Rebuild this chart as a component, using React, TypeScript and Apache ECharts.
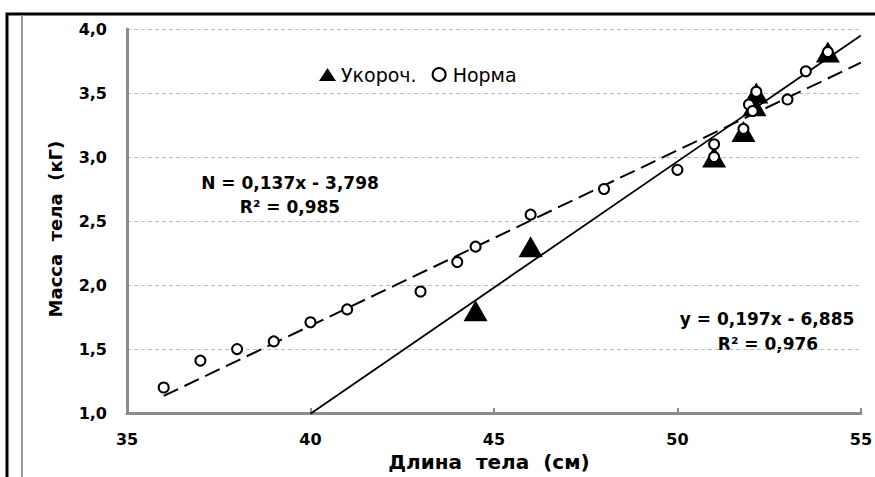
import React, { useEffect, useRef } from 'react';
import * as echarts from 'echarts';

// Categories / series names
const seriesNames = ['Укороч.', 'Норма'];

// Укороч. (shortened) – body length (cm) and body mass (kg)
const shortLength = [44.5, 46, 51, 51.8, 52.1, 52.15, 54.1];
const shortMass = [1.8, 2.3, 3.0, 3.2, 3.4, 3.5, 3.82];

// Норма (normal) – body length (cm) and body mass (kg)
const normLength = [36, 37, 38, 39, 40, 41, 43, 44, 44.5, 46, 48, 50, 51, 51, 51.8, 51.95, 52.05, 52.15, 53, 53.5, 54.1];
const normMass = [1.2, 1.41, 1.5, 1.56, 1.71, 1.81, 1.95, 2.18, 2.3, 2.55, 2.75, 2.9, 3.0, 3.1, 3.22, 3.41, 3.36, 3.51, 3.45, 3.67, 3.82];

// Linear trend lines shown on the chart: [slope, intercept], x range
const normTrend = { slope: 0.137, intercept: -3.798, from: 36, to: 55 };
const shortTrend = { slope: 0.197, intercept: -6.885, from: 40, to: 55 };

// Equation labels
const normEquation = ['N = 0,137x - 3,798', 'R² = 0,985'];
const shortEquation = ['y = 0,197x - 6,885', 'R² = 0,976'];

// Axis ticks / names
const xTicks = { min: 35, max: 55, interval: 5 };
const yTicks = { min: 1, max: 4, interval: 0.5 };
const xName = 'Длина  тела  (см)';
const yName = 'Масса  тела  (кГ)';

const trendPoints = (t: { slope: number; intercept: number; from: number; to: number }) => [
  [t.from, t.slope * t.from + t.intercept],
  [t.to, t.slope * t.to + t.intercept],
];

export default function App() {
  const ref = useRef<HTMLDivElement>(null);
  useEffect(() => {
    const chart = echarts.init(ref.current!, null, { renderer: 'svg' });
    const boldFont = 'DejaVu Sans';
    const eqStyle = (text: string) => ({
      text,
      fontFamily: boldFont,
      fontWeight: 'bold',
      fontSize: 17,
      fill: '#000',
      align: 'center',
      verticalAlign: 'middle',
    });
    chart.setOption({
      animation: false,
      backgroundColor: '#ffffff',
      grid: { left: 127, right: 9, top: 29, bottom: 58, containLabel: false },
      legend: {
        left: 314,
        top: 60,
        itemWidth: 17,
        itemHeight: 13,
        itemGap: 15,
        data: [
          { name: seriesNames[0], icon: 'triangle' },
          { name: seriesNames[1], icon: 'circle' },
        ],
        textStyle: { fontFamily: 'DejaVu Sans', fontSize: 19, color: '#000' },
      },
      xAxis: {
        type: 'value',
        min: xTicks.min,
        max: xTicks.max,
        interval: xTicks.interval,
        name: xName,
        nameLocation: 'middle',
        nameGap: 36,
        nameTextStyle: {
          fontFamily: boldFont,
          fontWeight: 'bold',
          fontSize: 20,
          color: '#000',
          padding: [0, 10, 0, 0],
        },
        axisLine: { show: true, lineStyle: { color: '#8c8c8c', width: 3 } },
        axisTick: { show: true, inside: true, length: 5, lineStyle: { color: '#8c8c8c', width: 2 } },
        axisLabel: {
          margin: 18,
          fontFamily: boldFont,
          fontWeight: 'bold',
          fontSize: 16,
          color: '#000',
        },
        splitLine: { show: false },
      },
      yAxis: {
        type: 'value',
        min: yTicks.min,
        max: yTicks.max,
        interval: yTicks.interval,
        name: yName,
        nameLocation: 'middle',
        nameGap: 63,
        nameRotate: 90,
        nameTextStyle: {
          fontFamily: boldFont,
          fontWeight: 'bold',
          fontSize: 18,
          color: '#000',
          padding: [0, 16, 0, 0],
        },
        axisLine: { show: true, lineStyle: { color: '#8c8c8c', width: 3 } },
        axisTick: { show: false },
        axisLabel: {
          margin: 20,
          fontFamily: boldFont,
          fontWeight: 'bold',
          fontSize: 16,
          color: '#000',
          formatter: (v: number) => v.toFixed(1).replace('.', ','),
        },
        splitLine: { show: true, lineStyle: { color: '#bdbdbd', width: 1, type: [4, 3] } },
      },
      series: [
        {
          name: 'trend-norm',
          type: 'line',
          data: trendPoints(normTrend),
          symbol: 'none',
          lineStyle: { color: '#000', width: 2, type: [16, 7] },
          z: 2,
          silent: true,
        },
        {
          name: 'trend-short',
          type: 'line',
          data: trendPoints(shortTrend),
          symbol: 'none',
          lineStyle: { color: '#000', width: 1.8, type: 'solid' },
          z: 2,
          silent: true,
        },
        {
          name: seriesNames[0],
          type: 'scatter',
          data: shortLength.map((x, i) => [x, shortMass[i]]),
          symbol: 'triangle',
          symbolSize: [24, 21],
          itemStyle: { color: '#000', opacity: 1 },
          z: 3,
        },
        {
          name: seriesNames[1],
          type: 'scatter',
          data: normLength.map((x, i) => [x, normMass[i]]),
          symbol: 'circle',
          symbolSize: 10,
          itemStyle: { color: '#fff', borderColor: '#000', borderWidth: 2, opacity: 1 },
          z: 4,
        },
      ],
      graphic: [
        {
          type: 'rect',
          silent: true,
          shape: { x: 7, y: 14, width: 920, height: 520 },
          style: { fill: 'none', stroke: '#000', lineWidth: 3 },
        },
        {
          type: 'line',
          silent: true,
          shape: { x1: 22, y1: 15, x2: 22, y2: 477 },
          style: { stroke: '#999', lineWidth: 2 },
        },
        { type: 'text', x: 290, y: 183, style: eqStyle(normEquation[0]) },
        { type: 'text', x: 290, y: 207, style: eqStyle(normEquation[1]) },
        { type: 'text', x: 767, y: 319, style: eqStyle(shortEquation[0]) },
        { type: 'text', x: 768, y: 344, style: eqStyle(shortEquation[1]) },
      ],
    });
    return () => chart.dispose();
  }, []);
  return (
    <div
      ref={ref}
      style={{ position: 'absolute', left: 0, top: 0, width: 875, height: 477, background: '#fff' }}
    />
  );
}
